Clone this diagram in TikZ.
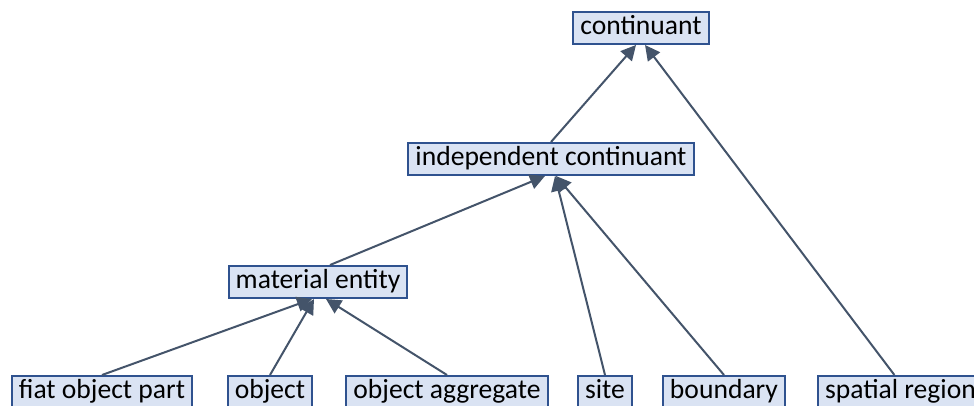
\documentclass[tikz,border=0pt]{standalone}
\usepackage{fontspec}
\setmainfont{Carlito}
\usepackage{tikz}
\usetikzlibrary{arrows.meta, positioning, calc}
\definecolor{BoxFill}{RGB}{218,227,243}
\definecolor{BoxLine}{RGB}{47,82,143}
\definecolor{ArrowGrey}{RGB}{68,84,106}

\tikzset{
  term/.style={draw=BoxLine, fill=BoxFill, line width=1pt, inner xsep=3.5pt, inner ysep=0pt,
    minimum height=16pt, text height=9.6pt, text depth=2.9pt, font=\fontsize{13.8}{16}\selectfont},
  isa/.style={draw=ArrowGrey, line width=1pt, -{Triangle[length=7.5pt, width=7.5pt]}}
}

\begin{document}
\begin{tikzpicture}[x=0.5pt, y=-0.5pt]
    \useasboundingbox (0,0) rectangle (974,406);
    % levels
    \node[term] (cont) at (641,28)  {continuant};
    \node[term] (ind)  at (551,159) {independent continuant};
    \node[term] (mat)  at (318,282) {material entity};
    % leaves
    \node[term] (fiat)    at (102,392) {fiat object part};
    \node[term] (obj)     at (270,392) {object};
    \node[term] (agg)     at (447,392) {object aggregate};
    \node[term] (site)    at (605,392) {site};
    \node[term] (bound)   at (724,392) {boundary};
    \node[term, anchor=west] (spat) at (817,392) {spatial region};

    \draw[isa] (ind.north) -- ([xshift=-2.5pt]cont.south);
    \draw[isa] ([xshift=-3pt]spat.north) -- ([xshift=2pt]cont.south);
    \draw[isa] ([xshift=6pt]mat.north) -- ([xshift=-3pt]ind.south);
    \draw[isa] (site.north) -- ([xshift=2pt]ind.south);
    \draw[isa] (bound.north) -- ([xshift=2.5pt]ind.south);
    \draw[isa] (fiat.north) -- ([xshift=-3pt]mat.south);
    \draw[isa] (obj.north) -- ([xshift=-2pt]mat.south);
    \draw[isa] (agg.north) -- ([xshift=4pt]mat.south);
\end{tikzpicture}
\end{document}
